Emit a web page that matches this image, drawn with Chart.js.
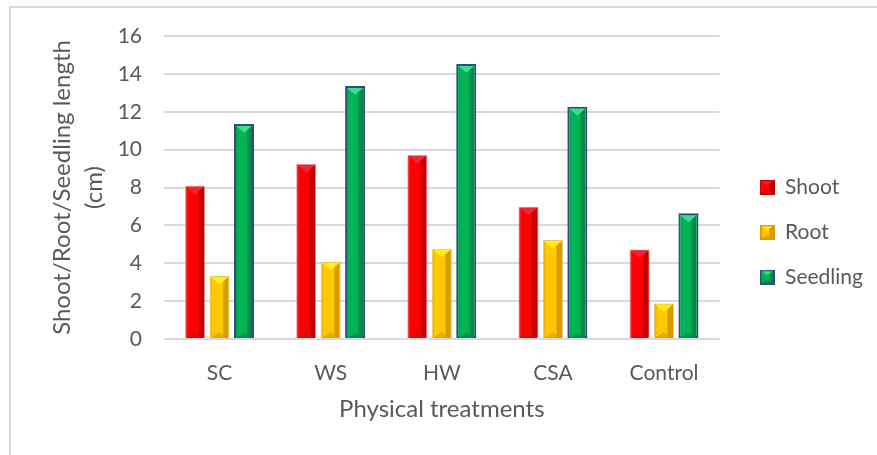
<!DOCTYPE html>
<html>
<head>
<meta charset="utf-8">
<script src="https://cdn.jsdelivr.net/npm/chart.js@4.4.1/dist/chart.umd.min.js"></script>
<style>
  html, body { margin: 0; padding: 0; background: #ffffff; }
  #wrap { position: relative; width: 877px; height: 455px; overflow: hidden; }
  #frame { position: absolute; left: 9px; top: 6px; right: -10px; bottom: -10px;
           border-left: 2px solid #d9d9d9; border-top: 2px solid #d9d9d9; }
  canvas { position: absolute; left: 0; top: 0; }
</style>
</head>
<body>
<div id="wrap">
  <div id="frame"></div>
  <canvas id="chart" width="877" height="455"></canvas>
</div>
<script>
// Lengths (cm) per physical treatment
const categories = ['SC', 'WS', 'HW', 'CSA', 'Control'];
const shoot    = [8.09, 9.24, 9.71, 6.99, 4.73];
const root     = [3.33, 4.08, 4.77, 5.23, 1.88];
const seedling = [11.35, 13.36, 14.52, 12.27, 6.64];
const yTickMin = 0, yTickMax = 16, yTickStep = 2;

const FONT = 'Lato, "Open Sans", sans-serif';
const TEXT = '#595959';

// Shading for the bevelled bar look
const palettes = {
  red:    { base: '#ff0000', edge: '#e23a3a', dark: '#c40000', top: '#e8283a', bottom: '#c81010', border: 'rgba(230,120,120,0.8)', bw: 1 },
  yellow: { base: '#ffc800', edge: '#e8b000', dark: '#d69c00', top: '#ffee10', bottom: '#d9a000', border: 'rgba(220,180,90,0.8)', bw: 1 },
  green:  { base: '#00b456', edge: '#00a04a', dark: '#008a45', top: '#38e08e', bottom: '#008a40', border: '#2f4b85', bw: 2 }
};

function bodyGradient(ctx, L, R, p) {
  const g = ctx.createLinearGradient(L, 0, R, 0);
  g.addColorStop(0, p.edge);
  g.addColorStop(0.12, p.base);
  g.addColorStop(0.66, p.base);
  g.addColorStop(0.74, p.dark);
  g.addColorStop(1, p.dark);
  return g;
}

function paintBevel(ctx, L, R, T, B, p) {
  const w = R - L;
  const mid = (L + R) / 2;
  ctx.save();
  ctx.beginPath();
  ctx.rect(L, T, w, B - T);
  ctx.clip();
  ctx.fillStyle = bodyGradient(ctx, L, R, p);
  ctx.fillRect(L, T, w, B - T);
  const d = Math.min(w * 0.42, (B - T) / 3);
  ctx.fillStyle = p.top;
  ctx.beginPath();
  ctx.moveTo(L, T); ctx.lineTo(R, T); ctx.lineTo(mid, T + d); ctx.closePath();
  ctx.fill();
  ctx.fillStyle = p.bottom;
  ctx.globalAlpha = 0.75;
  ctx.beginPath();
  ctx.moveTo(L, B); ctx.lineTo(R, B); ctx.lineTo(mid, B - d * 0.8); ctx.closePath();
  ctx.fill();
  ctx.restore();
}

// Small bevelled squares used as legend markers
function makeMarker(p) {
  const c = document.createElement('canvas');
  c.width = 15; c.height = 15;
  const g = c.getContext('2d');
  g.fillStyle = p.bw > 1 ? p.border : p.dark;
  g.fillRect(0, 0, 15, 15);
  paintBevel(g, 1.5, 13.5, 1.5, 13.5, p);
  return c;
}

const bevelPlugin = {
  id: 'bevel',
  afterDatasetDraw(chart, args) {
    const p = chart.data.datasets[args.index].palette;
    const ctx = chart.ctx;
    args.meta.data.forEach(bar => {
      const { x, y, base, width } = bar.getProps(['x', 'y', 'base', 'width'], true);
      const L = x - width / 2 + p.bw, R = x + width / 2 - p.bw;
      const T = Math.min(y, base) + p.bw, B = Math.max(y, base);
      paintBevel(ctx, L, R, T, B, p);
    });
  }
};

function dataset(label, values, p) {
  return {
    label, data: values, palette: p,
    backgroundColor: p.base, borderColor: p.border, borderWidth: p.bw,
    borderSkipped: false, pointStyle: makeMarker(p)
  };
}

new Chart(document.getElementById('chart'), {
  type: 'bar',
  data: {
    labels: categories,
    datasets: [
      dataset('Shoot', shoot, palettes.red),
      dataset('Root', root, palettes.yellow),
      dataset('Seedling', seedling, palettes.green)
    ]
  },
  plugins: [bevelPlugin],
  options: {
    responsive: false,
    animation: false,
    devicePixelRatio: 1,
    categoryPercentage: 0.66,
    barPercentage: 0.82,
    layout: { padding: { left: 47, top: 36, right: 4, bottom: 27 } },
    plugins: {
      tooltip: { enabled: false },
      legend: {
        position: 'right',
        labels: {
          usePointStyle: true, pointStyleWidth: 15, boxHeight: 15,
          padding: 24, color: TEXT,
          font: { family: FONT, size: 21 }
        }
      }
    },
    scales: {
      x: {
        grid: { display: false },
        border: { display: false },
        ticks: { color: TEXT, font: { family: FONT, size: 21 }, padding: 14 },
        title: {
          display: true, text: 'Physical treatments', color: TEXT,
          font: { family: FONT, size: 24 }, padding: { top: 0, bottom: 4 }
        },
        afterFit(s) { s.height = 89; }
      },
      y: {
        min: yTickMin, max: yTickMax,
        ticks: { stepSize: yTickStep, color: TEXT, font: { family: FONT, size: 21 }, padding: 22 },
        grid: { color: '#d9d9d9', lineWidth: 2, drawTicks: false },
        border: { display: false },
        title: {
          display: true, text: ['Shoot/Root/Seedling length', '(cm)'], color: TEXT,
          font: { family: FONT, size: 24, lineHeight: 1.3 }, padding: 0
        },
        afterFit(s) { s.width = 117; }
      },
      gap: {
        type: 'linear', position: 'right', display: true,
        grid: { display: false }, ticks: { display: false }, border: { display: false },
        afterFit(s) { s.width = 16; }
      }
    }
  }
});
</script>
</body>
</html>
